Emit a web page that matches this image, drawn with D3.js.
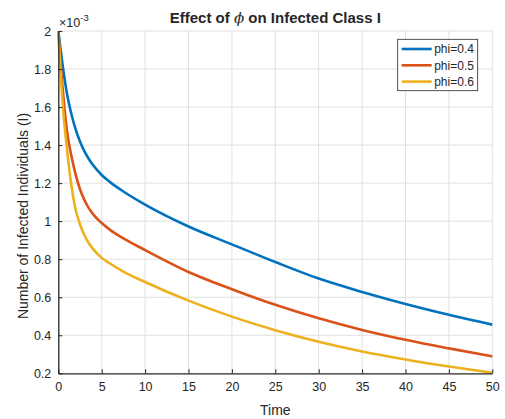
<!DOCTYPE html>
<html>
<head>
<meta charset="utf-8">
<script src="https://cdn.jsdelivr.net/npm/d3@7"></script>
<style>
  body { margin: 0; background: #fff; }
  svg text { font-family: "Liberation Sans", Arial, Helvetica, sans-serif; fill: #262626; }
</style>
</head>
<body>
<svg id="chart" width="505" height="419"></svg>
<script>
// time points
var times = [0, 0.5, 1, 1.5, 2, 2.5, 3, 3.5, 4, 5, 6, 7.5, 10, 15, 20, 25, 30, 35, 40, 45, 50];

// infected values, in units of 1e-3
var phi04 = [2.0, 1.82, 1.67, 1.565, 1.483, 1.419, 1.368, 1.328, 1.295, 1.243, 1.204, 1.156, 1.087, 0.972, 0.878, 0.785, 0.698, 0.628, 0.565, 0.508, 0.456];
var phi05 = [2.0, 1.70, 1.475, 1.345, 1.245, 1.168, 1.112, 1.07, 1.037, 0.99, 0.953, 0.91, 0.848, 0.733, 0.642, 0.560, 0.489, 0.428, 0.376, 0.331, 0.289];
var phi06 = [2.0, 1.62, 1.38, 1.19, 1.06, 0.984, 0.927, 0.885, 0.854, 0.807, 0.776, 0.735, 0.68, 0.582, 0.498, 0.427, 0.366, 0.315, 0.273, 0.236, 0.203];

var seriesNames = ["phi=0.4", "phi=0.5", "phi=0.6"];
var seriesColors = ["#0072BD", "#D95319", "#EDB120"];

var xTicks = [0, 5, 10, 15, 20, 25, 30, 35, 40, 45, 50];
var yTicks = [0.2, 0.4, 0.6, 0.8, 1, 1.2, 1.4, 1.6, 1.8, 2];

var margin = {left: 58.3, right: 12.7, top: 31, bottom: 45.7};
var width = 505, height = 419;

var svg = d3.select("#chart");

var xScale = d3.scaleLinear()
    .domain([0, 50])
    .range([margin.left, width - margin.right]);

var yScale = d3.scaleLinear()
    .domain([0.2, 2])
    .range([height - margin.bottom, margin.top]);

// grid
var grid = svg.append("g").attr("class", "grid");
grid.selectAll("line.vx")
  .data(xTicks.slice(1))
  .enter().append("line")
  .attr("x1", function (d) { return xScale(d); })
  .attr("x2", function (d) { return xScale(d); })
  .attr("y1", yScale(0.2))
  .attr("y2", yScale(2))
  .attr("stroke", "#e0e0e0")
  .attr("stroke-width", 1);
grid.selectAll("line.hy")
  .data(yTicks.slice(1))
  .enter().append("line")
  .attr("x1", xScale(0))
  .attr("x2", xScale(50))
  .attr("y1", function (d) { return yScale(d); })
  .attr("y2", function (d) { return yScale(d); })
  .attr("stroke", "#e0e0e0")
  .attr("stroke-width", 1);

// lines
var allSeries = [phi04, phi05, phi06];
var line = d3.line()
    .x(function (d, i) { return xScale(times[i]); })
    .y(function (d) { return yScale(d); })
    .curve(d3.curveMonotoneX);

svg.append("g").selectAll("path")
  .data(allSeries)
  .enter().append("path")
  .attr("d", line)
  .attr("fill", "none")
  .attr("stroke", function (d, i) { return seriesColors[i]; })
  .attr("stroke-width", 2.6);

// axes
var xAxis = d3.axisBottom(xScale).tickValues(xTicks).tickSizeInner(-4).tickSizeOuter(0).tickPadding(9);
var yAxis = d3.axisLeft(yScale).tickValues(yTicks).tickSizeInner(-4).tickSizeOuter(0).tickPadding(7)
    .tickFormat(function (d) { return d3.format("~g")(d); });

var gx = svg.append("g").attr("transform", "translate(0," + yScale(0.2) + ")").call(xAxis);
var gy = svg.append("g").attr("transform", "translate(" + xScale(0) + ",0)").call(yAxis);
[gx, gy].forEach(function (g) {
  g.select(".domain").attr("stroke", "#262626").attr("stroke-width", 1.3);
  g.selectAll(".tick line").attr("stroke", "#262626");
  g.selectAll(".tick text").attr("font-size", 12.5).attr("fill", "#333")
    .style("font-family", "'Liberation Sans', Arial, sans-serif");
});

// exponent
var expo = svg.append("text").attr("x", 59).attr("y", 26.5).attr("font-size", 12.5).attr("fill", "#333");
expo.append("tspan").text("\u00d710");
expo.append("tspan").attr("dy", -6).attr("font-size", 9.5).text("-3");

// title
var title = svg.append("text")
  .attr("x", (xScale(0) + xScale(50)) / 2)
  .attr("y", 23)
  .attr("text-anchor", "middle")
  .attr("font-size", 15)
  .attr("font-weight", "bold");
title.append("tspan").text("Effect of ");
title.append("tspan").attr("font-style", "italic").attr("font-weight", "normal")
  .style("font-family", "'DejaVu Serif', serif").text("\u03d5");
title.append("tspan").text(" on Infected Class I");

// axis labels
svg.append("text")
  .attr("x", (xScale(0) + xScale(50)) / 2)
  .attr("y", 414.5)
  .attr("text-anchor", "middle")
  .attr("font-size", 14)
  .attr("fill", "#333")
  .text("Time");

svg.append("text")
  .attr("transform", "translate(27.5,216) rotate(-90)")
  .attr("text-anchor", "middle")
  .attr("font-size", 14)
  .attr("fill", "#333")
  .text("Number of Infected Individuals (I)");

// legend
var legend = svg.append("g").attr("transform", "translate(397.7,39.3)");
legend.append("rect")
  .attr("width", 80).attr("height", 51.4)
  .attr("fill", "#fff").attr("stroke", "#262626").attr("stroke-width", 0.8);
var rows = legend.selectAll("g.row")
  .data(seriesNames)
  .enter().append("g")
  .attr("transform", function (d, i) { return "translate(0," + (9.7 + i * 16.3) + ")"; });
rows.append("line")
  .attr("x1", 4).attr("x2", 34)
  .attr("stroke", function (d, i) { return seriesColors[i]; })
  .attr("stroke-width", 2.6);
rows.append("text")
  .attr("x", 36.5).attr("y", 4.3)
  .attr("font-size", 12)
  .text(function (d) { return d; });
</script>
</body>
</html>
